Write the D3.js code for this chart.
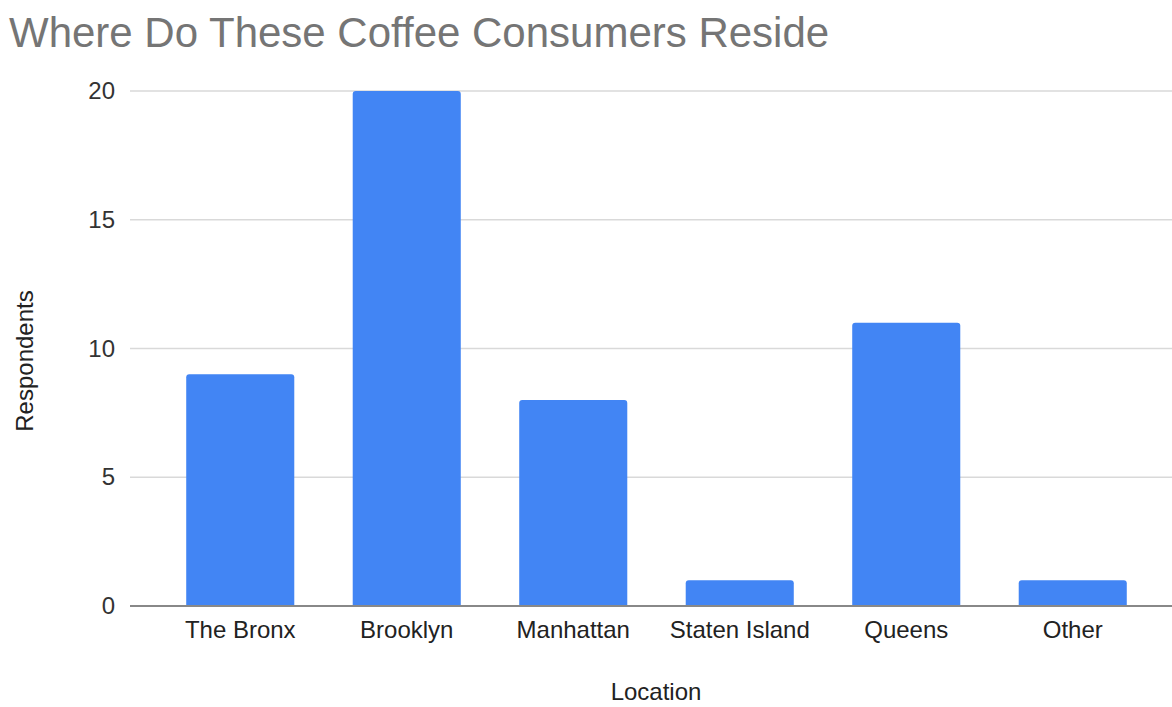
<!DOCTYPE html>
<html><head><meta charset="utf-8">
<script src="https://cdn.jsdelivr.net/npm/d3@7"></script>
<style>body{margin:0;background:#fff;}svg{display:block;font-family:"Liberation Sans",Arial,sans-serif;}</style>
</head><body>
<script>
const categories = ["The Bronx","Brooklyn","Manhattan","Staten Island","Queens","Other"];
const values = [9,20,8,1,11,1];
const yTicks = [0,5,10,15,20];
const title = "Where Do These Coffee Consumers Reside";
const xTitle = "Location";
const yTitle = "Respondents";

const W=1172,H=707;
const svg=d3.select("body").append("svg").attr("width",W).attr("height",H);
const y=d3.scaleLinear().domain([0,20]).range([606,91]);
const x=d3.scaleBand().domain(categories).range([157,1156]).paddingInner(0.351).paddingOuter(0.1755);

svg.append("text").attr("x",9).attr("y",47).attr("font-size",42).attr("fill","#757575").text(title);

// gridlines
svg.append("g").selectAll("line").data(yTicks.filter(d=>d>0)).join("line")
 .attr("x1",130).attr("x2",W).attr("y1",d=>y(d)).attr("y2",d=>y(d))
 .attr("stroke","#d9d9d9").attr("stroke-width",1.5);

const yAxis=svg.append("g").attr("transform","translate(130,0)")
 .call(d3.axisLeft(y).tickValues(yTicks).tickSize(0).tickPadding(15));
yAxis.select(".domain").remove();
yAxis.selectAll("text").attr("font-size",24).attr("fill","#333").attr("font-family","Liberation Sans, Arial, sans-serif");

// bars with rounded top corners
const r=3;
svg.append("g").selectAll("path").data(values).join("path")
 .attr("fill","#4285f4")
 .attr("d",(d,i)=>{
   const x0=x(categories[i]),w=x.bandwidth(),y0=y(d),yb=y(0);
   return `M${x0},${yb}V${y0+r}Q${x0},${y0} ${x0+r},${y0}H${x0+w-r}Q${x0+w},${y0} ${x0+w},${y0+r}V${yb}Z`;
 });

// baseline
svg.append("line").attr("x1",130).attr("x2",W).attr("y1",y(0)).attr("y2",y(0)).attr("stroke","#888").attr("stroke-width",2);

const xAxis=svg.append("g").attr("transform",`translate(0,${y(0)})`)
 .call(d3.axisBottom(x).tickSize(0).tickPadding(15));
xAxis.select(".domain").remove();
xAxis.selectAll("text").attr("font-size",24).attr("fill","#222").attr("font-family","Liberation Sans, Arial, sans-serif");

svg.append("text").attr("x",656).attr("y",700).attr("text-anchor","middle").attr("font-size",24).attr("fill","#222").text(xTitle);
svg.append("text").attr("transform","translate(33,361) rotate(-90)").attr("text-anchor","middle").attr("font-size",24).attr("fill","#222").text(yTitle);
</script>
</body></html>
